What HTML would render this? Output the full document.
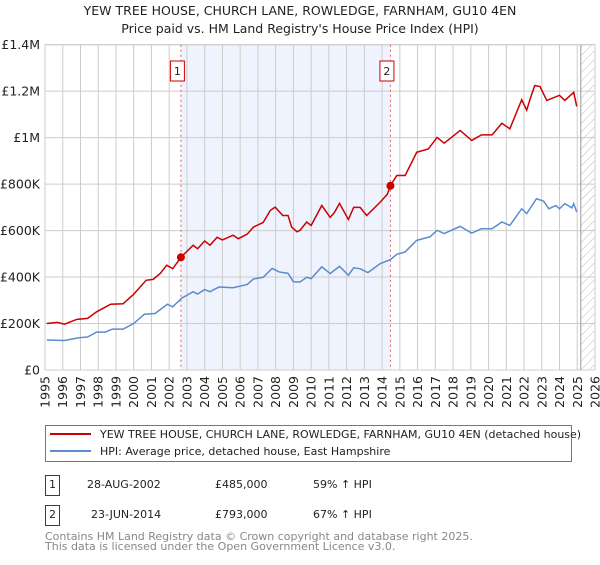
<!DOCTYPE html>
<html><head><meta charset="utf-8"><style>
body{margin:0;background:#fff;font-family:"Liberation Sans","DejaVu Sans",sans-serif;}
svg text{font-family:"DejaVu Sans","Liberation Sans",sans-serif;}
</style></head><body>
<svg id="chart" width="600" height="560" xmlns="http://www.w3.org/2000/svg">
<text x="300" y="15" font-size="12.5" text-anchor="middle" fill="#222">YEW TREE HOUSE, CHURCH LANE, ROWLEDGE, FARNHAM, GU10 4EN</text>
<text x="300" y="33" font-size="12.5" text-anchor="middle" fill="#222">Price paid vs. HM Land Registry's House Price Index (HPI)</text>
<defs><pattern id="hatch" width="6" height="6" patternUnits="userSpaceOnUse" patternTransform="rotate(45)"><line x1="0" y1="0" x2="0" y2="6" stroke="#bbb" stroke-width="1"/></pattern></defs>
<g id="grid"></g><g id="marks"></g>
<g>
<rect x="45.5" y="425.5" width="526" height="36" fill="#fff" stroke="#777"/>
<line x1="50" y1="434" x2="91" y2="434" stroke="#cc0000" stroke-width="2"/>
<text x="100" y="438" font-size="11" fill="#222">YEW TREE HOUSE, CHURCH LANE, ROWLEDGE, FARNHAM, GU10 4EN (detached house)</text>
<line x1="50" y1="451" x2="91" y2="451" stroke="#5b8bd0" stroke-width="2"/>
<text x="100" y="455" font-size="11" fill="#222">HPI: Average price, detached house, East Hampshire</text>
</g>
<g font-size="11" fill="#222">
<rect x="45.5" y="475.5" width="14" height="20" fill="#fff" stroke="#cc0000"/>
<text x="52.5" y="488" text-anchor="middle">1</text>
<text x="87" y="488">28-AUG-2002</text><text x="215" y="488">£485,000</text><text x="313" y="488">59% ↑ HPI</text>
<rect x="45.5" y="505.5" width="14" height="20" fill="#fff" stroke="#cc0000"/>
<text x="52.5" y="518" text-anchor="middle">2</text>
<text x="91" y="518">23-JUN-2014</text><text x="215" y="518">£793,000</text><text x="313" y="518">67% ↑ HPI</text>
</g>
<text x="45" y="540" font-size="11" fill="#888">Contains HM Land Registry data © Crown copyright and database right 2025.</text>
<text x="45" y="550" font-size="11" fill="#888">This data is licensed under the Open Government Licence v3.0.</text>
</svg>
<script>
const yearTicks=[1995,1996,1997,1998,1999,2000,2001,2002,2003,2004,2005,2006,2007,2008,2009,2010,2011,2012,2013,2014,2015,2016,2017,2018,2019,2020,2021,2022,2023,2024,2025,2026];
const yTickValues=[0,200000,400000,600000,800000,1000000,1200000,1400000];
const yTickLabels=["£0","£200K","£400K","£600K","£800K","£1M","£1.2M","£1.4M"];
const redYears=[1995.1,1995.7,1996.1,1996.8,1997.4,1997.9,1998.7,1999.4,1999.96,2000.7,2001.1,2001.5,2001.86,2002.2,2002.66,2003.35,2003.6,2004.0,2004.3,2004.7,2005.0,2005.6,2005.9,2006.4,2006.75,2007.3,2007.7,2007.97,2008.4,2008.7,2008.9,2009.2,2009.37,2009.75,2010.0,2010.6,2011.07,2011.3,2011.6,2012.1,2012.4,2012.76,2013.13,2013.9,2014.3,2014.47,2014.83,2015.3,2015.95,2016.6,2017.1,2017.5,2018.4,2019.05,2019.6,2020.2,2020.75,2021.2,2021.87,2022.15,2022.35,2022.6,2022.9,2023.28,2024.0,2024.3,2024.8,2024.97];
const redValues=[200,205,197,218,222,250,283,285,323,386,390,416,451,436,485,537,522,555,537,571,560,580,565,585,615,635,687,701,665,665,615,595,601,637,622,708,657,676,717,648,700,700,665,723,757,794,837,837,937,951,1001,976,1031,988,1012,1012,1062,1038,1163,1118,1168,1224,1220,1160,1182,1160,1195,1134];
const blueYears=[1995.1,1996.1,1996.9,1997.4,1997.9,1998.4,1998.8,1999.4,2000.0,2000.6,2001.2,2001.9,2002.2,2002.7,2003.35,2003.6,2004.0,2004.3,2004.8,2005.6,2006.4,2006.75,2007.3,2007.8,2008.2,2008.7,2009.0,2009.37,2009.75,2010.0,2010.6,2011.07,2011.6,2012.1,2012.4,2012.76,2013.2,2013.9,2014.47,2014.83,2015.3,2015.95,2016.7,2017.1,2017.5,2018.4,2019.05,2019.6,2020.2,2020.75,2021.2,2021.87,2022.15,2022.7,2023.1,2023.4,2023.8,2024.0,2024.3,2024.7,2024.8,2024.97];
const blueValues=[129,127,139,142,163,163,176,176,200,240,243,283,272,309,337,327,346,337,357,354,368,392,399,437,422,416,380,379,399,393,444,415,446,408,440,436,419,458,475,498,508,558,573,601,587,618,589,608,608,637,622,694,673,737,727,694,708,694,716,698,716,680];
const saleYears=[2002.66,2014.47];
const saleValues=[485,793];
const saleLabels=["1","2"];
const dataEnd=2025.2;

const X0=45,X1=595,Y0=370,Y1=44.7;
const xs=y=>X0+(y-1995)/(2026-1995)*(X1-X0);
const ys=v=>Y0-v/1400000*(Y0-Y1);
const NS="http://www.w3.org/2000/svg";
function mk(tag,attrs,parent){const e=document.createElementNS(NS,tag);for(const k in attrs)e.setAttribute(k,attrs[k]);parent.appendChild(e);return e;}
const grid=document.getElementById('grid'),marks=document.getElementById('marks');
const shade=mk('rect',{x:xs(saleYears[0]),y:Y1,width:xs(saleYears[1])-xs(saleYears[0]),height:Y0-Y1,fill:'#eef3fd'},grid);


const hat=mk('rect',{x:xs(dataEnd),y:Y1,width:X1-xs(dataEnd),height:Y0-Y1,fill:'url(#hatch)'},grid);


yearTicks.forEach(yr=>{
  const l=mk('line',{x1:xs(yr),x2:xs(yr),y1:Y1,y2:Y0,stroke:'#ccc'},grid);
  
  
  const t=mk('text',{x:0,y:0,'font-size':'12.5','text-anchor':'end',fill:'#222',transform:`translate(${xs(yr)+4.5},376) rotate(-90)`},grid);
  t.textContent=yr;
  
  
});
yTickValues.forEach((v,i)=>{
  const l=mk('line',{x1:X0,x2:X1,y1:ys(v),y2:ys(v),stroke:'#ccc'},grid);
  
  
  const t=mk('text',{x:40,y:ys(v)+4.5,'font-size':'12.5','text-anchor':'end',fill:'#222'},grid);
  t.textContent=yTickLabels[i];
  
  
});
const endLine=mk('line',{x1:xs(dataEnd),x2:xs(dataEnd),y1:Y1,y2:Y0,stroke:'#999'},grid);


saleYears.forEach((yr,i)=>{
  const l=mk('line',{x1:xs(yr),x2:xs(yr),y1:Y1,y2:Y0,stroke:'#e06060','stroke-dasharray':'2,3'},marks);
  
  
  const bx=xs(yr)-10.5;
  const r=mk('rect',{x:bx,y:61,width:14,height:20,fill:'#fff',stroke:'#cc0000'},marks);
  
  
  const t=mk('text',{x:bx+7,y:75,'font-size':'11','text-anchor':'middle',fill:'#222'},marks);
  t.textContent=saleLabels[i];
  
  
});
const bl=mk('polyline',{points:blueYears.map((y,i)=>xs(y)+','+ys(blueValues[i]*1000)).join(' '),fill:'none',stroke:'#5b8bd0','stroke-width':'1.5'},marks);


const rl=mk('polyline',{points:redYears.map((y,i)=>xs(y)+','+ys(redValues[i]*1000)).join(' '),fill:'none',stroke:'#cc0000','stroke-width':'1.5'},marks);


saleYears.forEach((yr,i)=>{
  const c=mk('circle',{cx:xs(yr),cy:ys(saleValues[i]*1000),r:4,fill:'#cc0000'},marks);
  
  
});
const frame=mk('rect',{x:X0,y:Y1,width:X1-X0,height:Y0-Y1,fill:'none',stroke:'#ccc'},grid);


</script>
</body></html>
